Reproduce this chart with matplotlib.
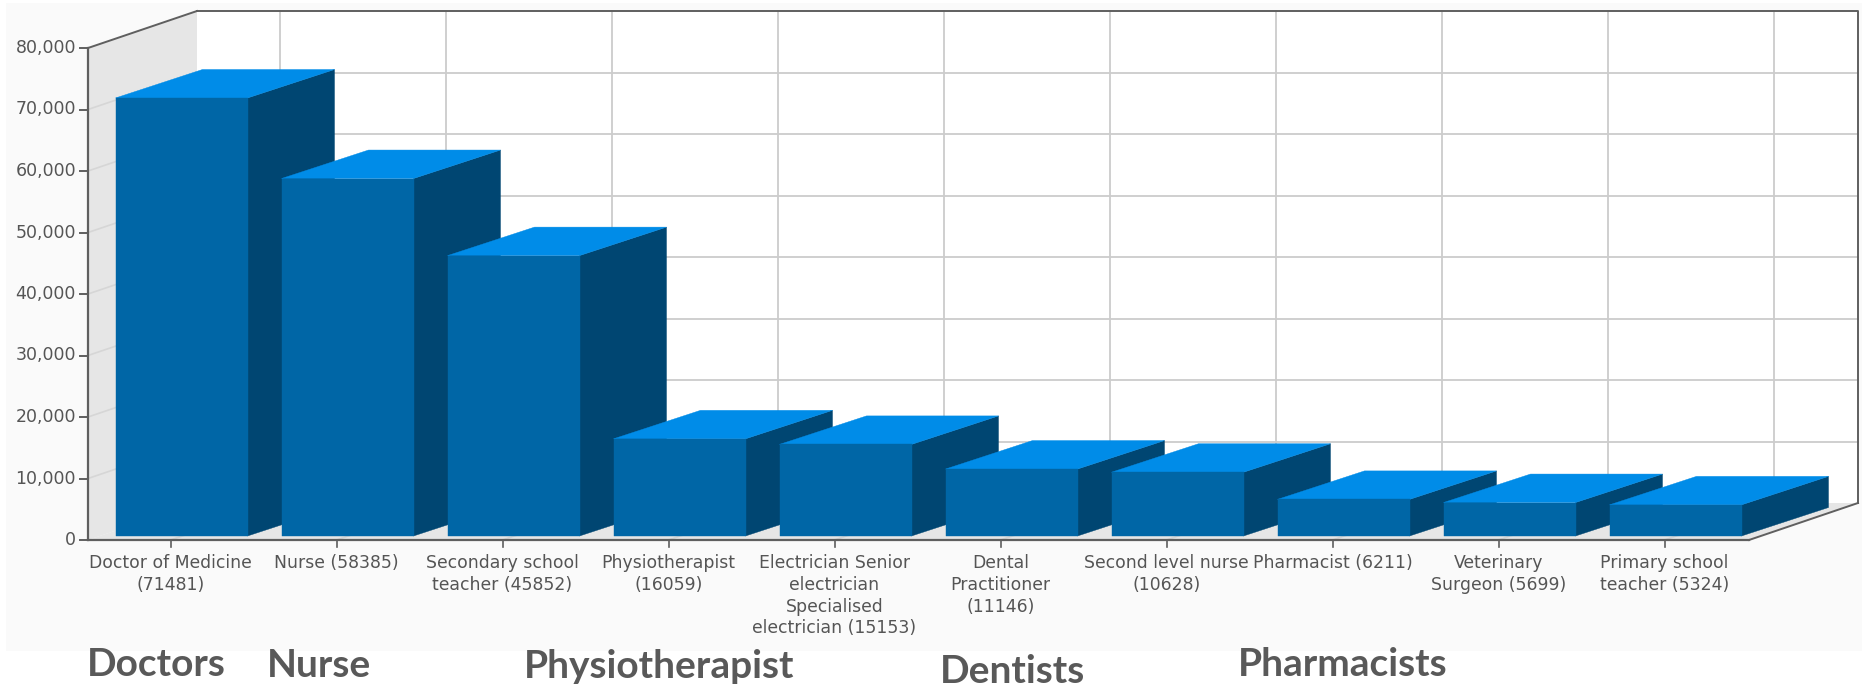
import matplotlib
matplotlib.use('Agg')
import matplotlib.pyplot as plt
from matplotlib.patches import Polygon, Rectangle

categories = ['Doctor of Medicine\n(71481)', 'Nurse (58385)', 'Secondary school\nteacher (45852)',
              'Physiotherapist\n(16059)', 'Electrician Senior\nelectrician\nSpecialised\nelectrician (15153)',
              'Dental\nPractitioner\n(11146)', 'Second level nurse\n(10628)', 'Pharmacist (6211)',
              'Veterinary\nSurgeon (5699)', 'Primary school\nteacher (5324)']
values = [71481, 58385, 45852, 16059, 15153, 11146, 10628, 6211, 5699, 5324]
yticks = [0, 10000, 20000, 30000, 40000, 50000, 60000, 70000, 80000]
notes = ['Doctors', 'Nurse', 'Physiotherapist', 'Dentists', 'Pharmacists']

W, H = 1862, 686
X0, PITCH = 170.5, 166.0    # pixel of first tick, pixels per category
Y0, SCALE = 540, 0.00615    # pixel of zero, pixels per unit

fig = plt.figure(figsize=(W / 100, H / 100), dpi=100, facecolor='white')
ax = fig.add_axes([0, 0, 1, 1])
ax.set_xlim(-X0 / PITCH, (W - X0) / PITCH)
ax.set_ylim((Y0 - H) / SCALE, Y0 / SCALE)
ax.axis('off')

# wall depth and bar depth, in data units
wall_dx, wall_dy = 109 / PITCH, 37 / SCALE
bar_dx, bar_dy = 87 / PITCH, 28.5 / SCALE
bar_w, bar_left = 132 / PITCH, -55 / PITCH
bar_base = 4 / SCALE
x_left = -82.5 / PITCH
x_right = (1749 - X0) / PITCH
ymax = yticks[-1]

grid = '#cccccc'
dark = '#5f5f5f'

# chart background
ax.add_patch(Rectangle(((6 - X0) / PITCH, (Y0 - 651) / SCALE), (W - 6) / PITCH, 648 / SCALE,
                       fc='#fafafa', ec='none', zorder=0))
# back wall, side wall, floor
ax.add_patch(Rectangle((x_left + wall_dx, wall_dy), x_right - x_left, ymax, fc='white', ec='none', zorder=1))
ax.add_patch(Polygon([(x_left, 0), (x_left + wall_dx, wall_dy), (x_left + wall_dx, ymax + wall_dy), (x_left, ymax)],
                     fc='#e6e6e6', ec='none', zorder=1))
ax.add_patch(Polygon([(x_left, 0), (x_right, 0), (x_right + wall_dx, wall_dy), (x_left + wall_dx, wall_dy)],
                     fc='#e6e6e6', ec='none', zorder=1))

# grid
for v in yticks[1:-1]:
    ax.plot([x_left + wall_dx, x_right + wall_dx], [v + wall_dy, v + wall_dy], color=grid, lw=1.3, zorder=2)
    ax.plot([x_left, x_left + wall_dx], [v, v + wall_dy], color='#d6d6d6', lw=1.2, zorder=2)
for i in range(len(categories)):
    ax.plot([i + wall_dx, i + wall_dx], [wall_dy, ymax + wall_dy], color=grid, lw=1.3, zorder=2)
    ax.plot([i, i + wall_dx], [0, wall_dy], color='#d6d6d6', lw=1.2, zorder=2)

# frame
ax.plot([x_left + wall_dx, x_right + wall_dx, x_right + wall_dx], [ymax + wall_dy, ymax + wall_dy, wall_dy],
        color=dark, lw=1.4, zorder=3)
ax.plot([x_left, x_left + wall_dx], [ymax, ymax + wall_dy], color=dark, lw=1.4, zorder=3)
ax.plot([x_right, x_right + wall_dx], [0, wall_dy], color=dark, lw=1.4, zorder=3)

# bars
for i, v in enumerate(values):
    l = i + bar_left
    r = l + bar_w
    top = v + bar_base * 0.6
    z = 4 + i
    ax.add_patch(Polygon([(r, bar_base), (r + bar_dx, bar_base + bar_dy), (r + bar_dx, top + bar_dy), (r, top)],
                         fc='#004672', ec='#004672', lw=0.3, zorder=z))
    ax.add_patch(Polygon([(l, top), (r, top), (r + bar_dx, top + bar_dy), (l + bar_dx, top + bar_dy)],
                         fc='#008ce8', ec='#008ce8', lw=0.3, zorder=z))
    ax.add_patch(Rectangle((l, bar_base), bar_w, top - bar_base, fc='#0066a6', ec='#0066a6', lw=0.3, zorder=z))

# axes lines and ticks
ax.plot([x_left, x_left], [0, ymax], color=dark, lw=1.6, zorder=20)
ax.plot([x_left, x_right], [0, 0], color=dark, lw=1.6, zorder=20)
for v in yticks:
    ax.plot([x_left - 8 / PITCH, x_left], [v, v], color=dark, lw=1.4, zorder=20)
    ax.text(x_left - 12 / PITCH, v, f'{v:,}', ha='right', va='center', fontsize=12.5, color='#555555', zorder=20)
for i, lab in enumerate(categories):
    ax.plot([i, i], [0, -7 / SCALE], color=dark, lw=1.2, zorder=20)
    ax.text(i, -14 / SCALE, lab, ha='center', va='top', fontsize=12.4, color='#555555',
            linespacing=1.27, zorder=20)

# notes added under the chart
note_x = [87, 267, 524, 940, 1238]
note_y = [676, 677, 678, 683, 676]
for s, nx, ny in zip(notes, note_x, note_y):
    ax.text((nx - X0) / PITCH, (Y0 - ny) / SCALE, s, ha='left', va='baseline', fontsize=28,
            family='Lato', fontweight='bold', color='#595959', zorder=20)

fig.savefig('out.png', dpi=100)
